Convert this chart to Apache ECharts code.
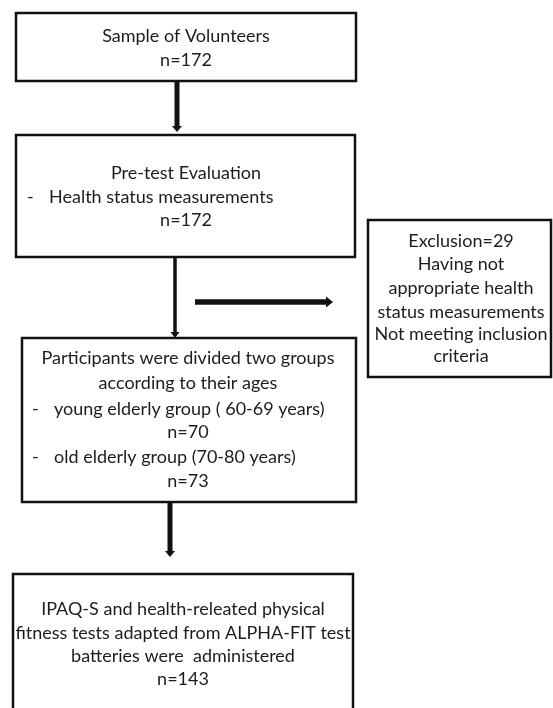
<!DOCTYPE html>
<html>
<head>
<meta charset="utf-8">
<script src="https://cdn.jsdelivr.net/npm/echarts@6/dist/echarts.min.js"></script>
<style>
  html, body { margin: 0; padding: 0; background: #fff; }
  #chart { width: 553px; height: 708px; }
</style>
</head>
<body>
<div id="chart"></div>
<script>
// box contents (lines starting with '- ' are bullet points)
const volunteerLines = ['Sample of Volunteers', 'n=172']
const pretestLines = ['Pre-test Evaluation', '- Health status measurements', 'n=172']
const exclusionLines = ['Exclusion=29', 'Having not', 'appropriate health', 'status measurements', 'Not meeting inclusion', 'criteria']
const groupLines = ['Participants were divided two groups', 'according to their ages', '- young elderly group ( 60-69 years)', 'n=70', '- old elderly group (70-80 years)', 'n=73']
const testLines = ['IPAQ-S and health-releated physical', 'fitness tests adapted from ALPHA-FIT test', 'batteries were  administered', 'n=143']

// layout
const boxes = [
  { lines: volunteerLines, x: 16, y: 13, w: 340, h: 68, cx: 186, lineY: [36, 60] },
  { lines: pretestLines, x: 16, y: 135, w: 339, h: 122, cx: 186, lineY: [173, 197, 220], dashX: 27, bulletX: 49 },
  { lines: exclusionLines, x: 368, y: 220, w: 183, h: 157, cx: 461, lineY: [241, 264, 288, 312, 334, 356] },
  { lines: groupLines, x: 22, y: 338, w: 334, h: 164, cx: 188, lineY: [358, 383, 409, 432, 457, 481], dashX: 32, bulletX: 54 },
  { lines: testLines, x: 13, y: 574, w: 340, h: 160, cx: 183, lineY: [609, 633, 656, 679] }
]
const arrows = [
  { x1: 177, y1: 82, x2: 177, y2: 132, w: 5, hw: 5, hl: 6 },
  { x1: 175, y1: 258, x2: 175, y2: 338, w: 3.5, hw: 4.5, hl: 6 },
  { x1: 195, y1: 302, x2: 333, y2: 302, w: 5.5, hw: 5.5, hl: 7 },
  { x1: 170, y1: 503, x2: 170, y2: 557, w: 5, hw: 5, hl: 6 }
]

const font = '18px Lato, "Open Sans", sans-serif'
const textColor = '#1c1c1c'

const elements = []
boxes.forEach(b => {
  elements.push({
    type: 'rect',
    shape: { x: b.x, y: b.y, width: b.w, height: b.h },
    style: { fill: '#fff', stroke: '#111', lineWidth: 2.5 }
  })
  b.lines.forEach((t, i) => {
    if (t.indexOf('- ') === 0) {
      elements.push({
        type: 'text',
        style: { text: '-', x: b.dashX, y: b.lineY[i], textAlign: 'left', textVerticalAlign: 'middle', font: font, fill: textColor }
      })
      elements.push({
        type: 'text',
        style: { text: t.slice(2), x: b.bulletX, y: b.lineY[i], textAlign: 'left', textVerticalAlign: 'middle', font: font, fill: textColor }
      })
    } else {
      elements.push({
        type: 'text',
        style: { text: t, x: b.cx, y: b.lineY[i], textAlign: 'center', textVerticalAlign: 'middle', font: font, fill: textColor }
      })
    }
  })
})

arrows.forEach(a => {
  const vertical = a.x1 === a.x2
  let shaftEnd, head
  if (vertical) {
    shaftEnd = [a.x2, a.y2 - a.hl]
    head = [[a.x2 - a.hw, a.y2 - a.hl], [a.x2 + a.hw, a.y2 - a.hl], [a.x2, a.y2]]
  } else {
    shaftEnd = [a.x2 - a.hl, a.y2]
    head = [[a.x2 - a.hl, a.y2 - a.hw], [a.x2 - a.hl, a.y2 + a.hw], [a.x2, a.y2]]
  }
  elements.push({
    type: 'polyline',
    shape: { points: [[a.x1, a.y1], shaftEnd] },
    style: { stroke: '#111', lineWidth: a.w, fill: null }
  })
  elements.push({
    type: 'polygon',
    shape: { points: head },
    style: { fill: '#111', stroke: null }
  })
})

const chart = echarts.init(document.getElementById('chart'), null, { renderer: 'canvas' })
chart.setOption({
  backgroundColor: '#fff',
  animation: false,
  graphic: { elements: elements }
})
window.addEventListener('resize', () => chart.resize())
</script>
</body>
</html>
